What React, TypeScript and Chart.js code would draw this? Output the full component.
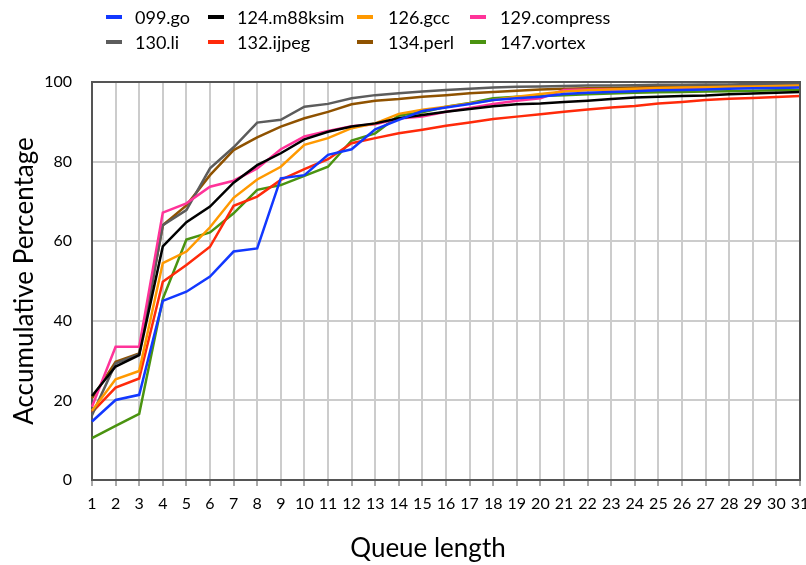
import React, { useEffect, useRef } from "react";
import { Chart, registerables } from "chart.js";

Chart.register(...registerables);

const queueLengths = ["1","2","3","4","5","6","7","8","9","10","11","12","13","14","15","16","17","18","19","20","21","22","23","24","25","26","27","28","29","30","31"];
const yTicks = [0, 20, 40, 60, 80, 100];

const go099 = [14.7, 20.1, 21.4, 45.0, 47.3, 51.1, 57.4, 58.2, 75.8, 76.6, 81.7, 83.1, 88.1, 90.5, 92.7, 93.6, 94.5, 95.5, 95.9, 96.3, 97.0, 97.3, 97.5, 97.7, 97.9, 98.0, 98.1, 98.3, 98.4, 98.5, 98.6];
const m88ksim124 = [21.1, 28.5, 31.4, 58.7, 64.8, 68.7, 74.7, 79.1, 82.1, 85.6, 87.5, 88.8, 89.6, 90.9, 91.7, 92.5, 93.2, 93.9, 94.4, 94.6, 95.0, 95.3, 95.7, 96.1, 96.3, 96.5, 96.6, 96.9, 97.1, 97.3, 97.5];
const gcc126 = [17.4, 25.3, 27.4, 54.5, 57.4, 63.5, 70.9, 75.5, 78.7, 84.2, 85.9, 88.4, 89.6, 92.0, 93.0, 93.8, 94.6, 95.5, 96.3, 97.0, 97.6, 97.9, 98.1, 98.3, 98.5, 98.6, 98.7, 98.8, 98.9, 99.0, 99.1];
const compress129 = [18.4, 33.5, 33.5, 67.2, 69.5, 73.7, 75.2, 78.3, 83.1, 86.3, 87.7, 88.9, 89.4, 90.8, 91.3, 92.5, 93.5, 94.5, 95.3, 95.9, 98.0, 98.1, 98.2, 98.2, 98.3, 98.4, 98.5, 98.6, 98.7, 98.7, 98.8];
const li130 = [16.3, 29.3, 31.6, 64.0, 67.8, 78.3, 83.6, 89.8, 90.5, 93.8, 94.5, 95.9, 96.7, 97.2, 97.6, 98.0, 98.3, 98.6, 98.8, 98.9, 99.0, 99.1, 99.1, 99.2, 99.3, 99.3, 99.4, 99.4, 99.5, 99.5, 99.6];
const ijpeg132 = [17.0, 23.2, 25.5, 49.8, 54.0, 58.6, 68.9, 71.2, 75.4, 78.1, 80.6, 84.6, 85.9, 87.1, 88.0, 89.0, 89.8, 90.7, 91.3, 91.9, 92.5, 93.1, 93.6, 94.0, 94.6, 95.0, 95.5, 95.8, 96.0, 96.2, 96.5];
const perl134 = [20.5, 29.7, 31.8, 64.0, 69.0, 76.6, 82.9, 86.1, 88.8, 90.9, 92.5, 94.4, 95.3, 95.7, 96.3, 96.7, 97.2, 97.5, 97.8, 98.1, 98.3, 98.4, 98.5, 98.6, 98.8, 98.9, 99.0, 99.1, 99.2, 99.2, 99.3];
const vortex147 = [10.5, 13.6, 16.6, 45.5, 60.4, 62.2, 67.0, 72.9, 74.1, 76.4, 78.7, 85.3, 87.1, 91.6, 92.4, 93.8, 94.7, 95.9, 96.3, 96.5, 96.7, 96.9, 97.1, 97.3, 97.4, 97.5, 97.6, 97.7, 97.8, 97.9, 98.0];

const seriesNames = ["099.go", "124.m88ksim", "126.gcc", "129.compress", "130.li", "132.ijpeg", "134.perl", "147.vortex"];
const seriesData = [go099, m88ksim124, gcc126, compress129, li130, ijpeg132, perl134, vortex147];
const seriesColors = ["#1238ff", "#000000", "#ff9900", "#ff3399", "#5c5c5c", "#ff2a0a", "#8f5200", "#4a9310"];

const xTitle = "Queue length";
const yTitle = "Accumulative Percentage";

const FONT = "'Gill Sans', 'Gill Sans MT', Lato, sans-serif";

// legend layout: [swatchLeft, textLeft] per column, row centers
const legendCols = [[106, 135], [208, 237], [357, 388], [470, 500]];
const legendRows = [17, 42];

const frame = {
  id: "frame",
  afterDatasetsDraw(chart: any) {
    const { ctx, chartArea } = chart;
    ctx.save();
    ctx.strokeStyle = "#555555";
    ctx.lineWidth = 2;
    ctx.beginPath();
    ctx.moveTo(chartArea.left, chartArea.top);
    ctx.lineTo(chartArea.right, chartArea.top);
    ctx.lineTo(chartArea.right, chartArea.bottom);
    ctx.stroke();
    ctx.restore();
  },
};

export default function App() {
  const ref = useRef<HTMLCanvasElement | null>(null);
  useEffect(() => {
    if (!ref.current) return;
    const chart = new Chart(ref.current, {
      type: "line",
      data: {
        labels: queueLengths,
        datasets: seriesNames.map((n, i) => ({
          label: n,
          data: seriesData[i],
          borderColor: seriesColors[i],
          backgroundColor: seriesColors[i],
          borderWidth: 2.5,
          pointRadius: 0,
          tension: 0,
          fill: false,
        })),
      },
      options: {
        animation: false,
        responsive: false,
        layout: { padding: { top: 82, right: 6, left: 0, bottom: 0 } },
        plugins: { legend: { display: false }, tooltip: { enabled: false } },
        scales: {
          x: {
            offset: false,
            grid: { color: "#cccccc", lineWidth: 2, tickLength: 6, tickColor: "#555555", tickWidth: 1 },
            border: { display: true, color: "#555555", width: 2 },
            ticks: { color: "#000", font: { family: FONT, size: 16 }, padding: 8, maxRotation: 0, autoSkip: false },
            title: { display: false },
            afterFit: (s: any) => { s.height = 85; s.paddingLeft = 0; s.paddingRight = 0; },
          },
          y: {
            min: 0,
            max: 100,
            afterBuildTicks: (s: any) => { s.ticks = yTicks.map((v) => ({ value: v })); },
            grid: { color: "#cccccc", lineWidth: 2, drawTicks: false },
            border: { display: true, color: "#555555", width: 2 },
            ticks: { color: "#000", font: { family: FONT, size: 16 }, padding: 20 },
            title: { display: true, text: yTitle, color: "#000", font: { family: FONT, size: 26 }, padding: { top: 9, bottom: 0 } },
            afterFit: (s: any) => { s.width = 92; s.paddingTop = 0; s.paddingBottom = 0; },
          },
        },
      },
      plugins: [frame],
    });
    return () => chart.destroy();
  }, []);

  return (
    <div style={{ position: "fixed", left: 0, top: 0, width: 806, height: 565, background: "#fff", fontFamily: FONT }}>
      <canvas ref={ref} width={806} height={565} style={{ position: "absolute", left: 0, top: 0 }} />
      {seriesNames.map((n, i) => {
        const col = legendCols[i % 4];
        const cy = legendRows[Math.floor(i / 4)];
        return (
          <React.Fragment key={n}>
            <div style={{ position: "absolute", left: col[0], top: cy - 2, width: 16, height: 4, background: seriesColors[i] }} />
            <div style={{ position: "absolute", left: col[1], top: cy - 12, height: 24, lineHeight: "24px", fontSize: 18, color: "#000", whiteSpace: "nowrap" }}>{n}</div>
          </React.Fragment>
        );
      })}
      <div style={{ position: "absolute", left: 228, width: 400, top: 531, height: 32, lineHeight: "32px", textAlign: "center", fontSize: 26, color: "#000", whiteSpace: "nowrap" }}>{xTitle}</div>
    </div>
  );
}
